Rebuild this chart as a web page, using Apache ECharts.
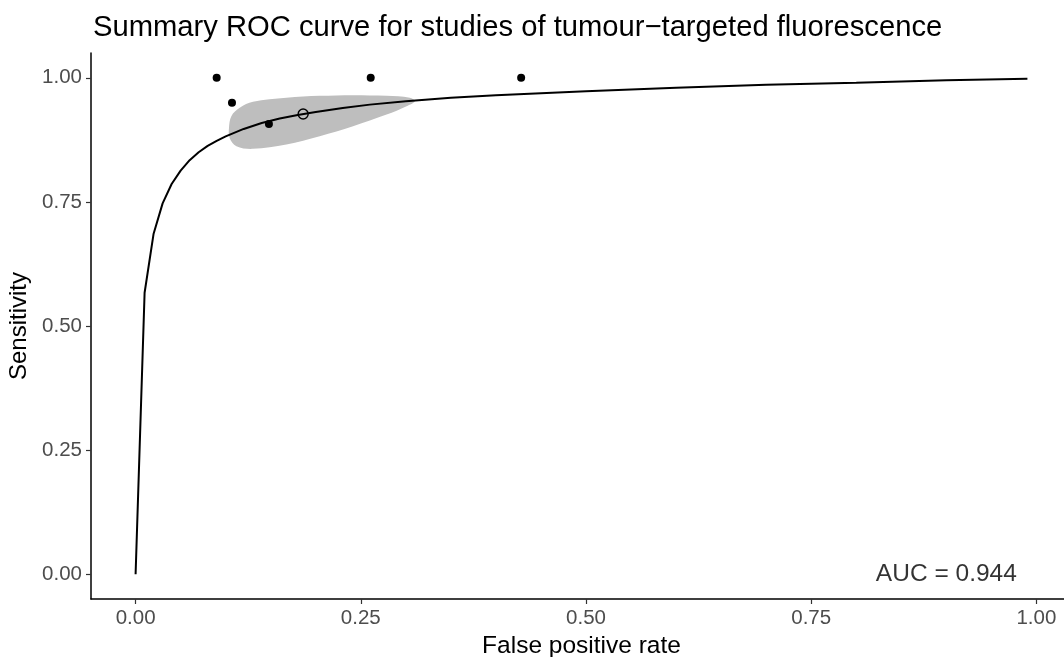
<!DOCTYPE html>
<html>
<head>
<meta charset="utf-8">
<script src="https://cdn.jsdelivr.net/npm/echarts@6/dist/echarts.min.js"></script>
<style>
  html, body { margin: 0; padding: 0; background: #fff; }
  #chart { width: 1064px; height: 657px; }
</style>
</head>
<body>
<div id="chart"></div>
<script>
// SROC curve
var curveFpr = [0, 0.01, 0.02, 0.03, 0.04, 0.05, 0.06, 0.07, 0.08, 0.09, 0.10, 0.12, 0.14, 0.16, 0.18, 0.20, 0.23, 0.26, 0.30, 0.35, 0.40, 0.45, 0.50, 0.60, 0.70, 0.80, 0.90, 0.99];
var curveSens = [0, 0.567, 0.686, 0.747, 0.786, 0.813, 0.834, 0.850, 0.863, 0.873, 0.882, 0.897, 0.909, 0.918, 0.925, 0.931, 0.939, 0.946, 0.953, 0.960, 0.965, 0.969, 0.973, 0.980, 0.986, 0.990, 0.995, 0.998];

// individual studies
var studyFpr = [0.090, 0.107, 0.148, 0.261, 0.428];
var studySens = [1.00, 0.95, 0.907, 1.00, 1.00];

// summary estimate
var summaryFpr = [0.186];
var summarySens = [0.927];

// confidence region outline
var regionFpr = [0.1063, 0.1156, 0.1303, 0.1674, 0.2044, 0.2414, 0.2786, 0.3044, 0.3100, 0.3008, 0.2786, 0.2414, 0.2044, 0.1674, 0.1303, 0.1119, 0.1044, 0.1037];
var regionSens = [0.9228, 0.9395, 0.9516, 0.9597, 0.9637, 0.9651, 0.9637, 0.9597, 0.9530, 0.9429, 0.9260, 0.9026, 0.8825, 0.8655, 0.8569, 0.8623, 0.8790, 0.8992];

var tickValues = [0, 0.25, 0.5, 0.75, 1];
var aucLabel = 'AUC = 0.944';
var aucPos = [0.9, 0];

function zip(a, b) {
  return a.map(function (v, i) { return [v, b[i]]; });
}

var myChart = echarts.init(document.getElementById('chart'));
var font = '"Liberation Sans", Arial, sans-serif';

var option = {
  animation: false,
  backgroundColor: '#fff',
  title: {
    text: 'Summary ROC curve for studies of tumour\u2212targeted fluorescence',
    left: 88,
    top: 8,
    textStyle: { fontFamily: font, fontSize: 29.2, fontWeight: 'normal', color: '#000' }
  },
  grid: { left: 91, right: -8, top: 53, height: 546, containLabel: false, outerBoundsMode: 'none' },
  xAxis: {
    type: 'value',
    min: -0.0495,
    max: 1.0395,
    name: 'False positive rate',
    nameLocation: 'middle',
    nameGap: 35,
    nameTextStyle: { fontFamily: font, fontSize: 24.5, color: '#000' },
    axisLine: { show: true, onZero: false, lineStyle: { color: '#000', width: 1.5 } },
    axisTick: { show: true, length: 5, customValues: tickValues, lineStyle: { color: '#333', width: 1.2 } },
    axisLabel: {
      customValues: tickValues, margin: 9, fontFamily: font, fontSize: 20.5, color: '#4d4d4d',
      formatter: function (v) { return v.toFixed(2); }
    },
    splitLine: { show: false }
  },
  yAxis: {
    type: 'value',
    min: -0.05,
    max: 1.05,
    name: 'Sensitivity',
    nameLocation: 'middle',
    nameGap: 56,
    nameTextStyle: { fontFamily: font, fontSize: 24, color: '#000' },
    axisLine: { show: true, onZero: false, lineStyle: { color: '#000', width: 1.5 } },
    axisTick: { show: true, length: 5, customValues: tickValues, lineStyle: { color: '#333', width: 1.2 } },
    axisLabel: {
      customValues: tickValues, margin: 9, fontFamily: font, fontSize: 20.5, color: '#4d4d4d',
      formatter: function (v) { return v.toFixed(2); }
    },
    splitLine: { show: false }
  },
  series: [
    {
      // confidence region
      type: 'custom',
      silent: true,
      data: zip(regionFpr, regionSens),
      renderItem: function (params, api) {
        if (params.dataIndex !== 0) return null;
        var pts = zip(regionFpr, regionSens).map(function (p) { return api.coord(p); });
        return {
          type: 'polygon',
          shape: { points: pts, smooth: 0.35 },
          style: { fill: '#bebebe', stroke: null }
        };
      },
      z: 1
    },
    {
      type: 'line',
      data: zip(curveFpr, curveSens),
      showSymbol: false,
      lineStyle: { color: '#000', width: 2 },
      z: 2
    },
    {
      type: 'scatter',
      data: zip(studyFpr, studySens),
      symbolSize: 8,
      itemStyle: { color: '#000', opacity: 1 },
      z: 3
    },
    {
      type: 'scatter',
      data: zip(summaryFpr, summarySens),
      symbolSize: 10,
      itemStyle: { color: 'rgba(0,0,0,0)', borderColor: '#000', borderWidth: 1.4, opacity: 1 },
      z: 4
    },
    {
      type: 'scatter',
      data: [aucPos],
      symbolSize: 0,
      silent: true,
      label: {
        show: true,
        position: 'inside',
        formatter: aucLabel,
        fontFamily: font,
        fontSize: 24.5,
        color: '#000'
      },
      z: 5
    }
  ]
};

myChart.setOption(option);
window.addEventListener('resize', function () {
  myChart.resize();
});
</script>
</body>
</html>
